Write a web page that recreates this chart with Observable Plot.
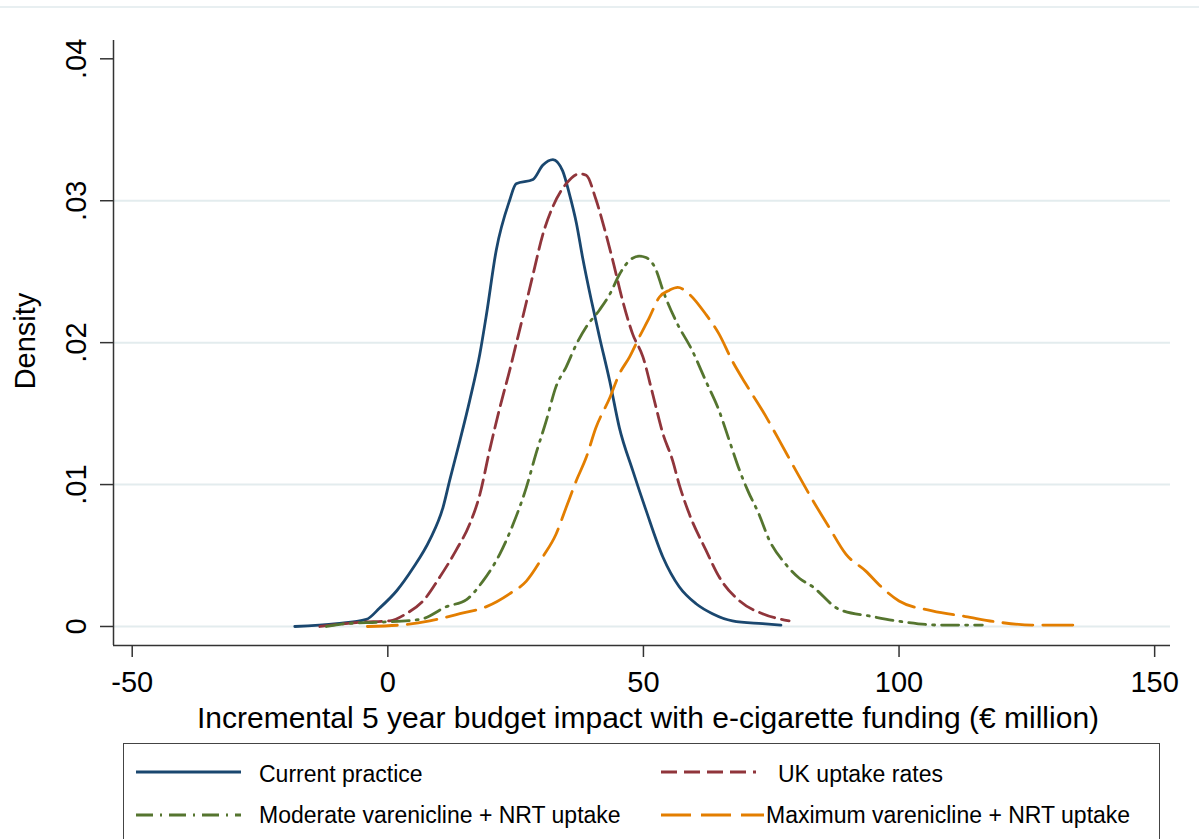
<!DOCTYPE html>
<html><head><meta charset="utf-8">
<script src="https://cdn.jsdelivr.net/npm/d3@7"></script>
<script src="https://cdn.jsdelivr.net/npm/@observablehq/plot@0.6"></script>
<style>
body{margin:0;background:#fff;font-family:"Liberation Sans",Arial,sans-serif;}
#wrap{position:relative;width:1199px;height:839px;overflow:hidden;background:#fff;}
#topline{position:absolute;left:0;top:6px;width:1199px;height:2px;background:#e8eff1;}
#chart{position:absolute;left:0;top:0;}
#legend{position:absolute;left:123px;top:743px;width:1037px;height:130px;border:1.5px solid #444;box-sizing:border-box;background:#fff;}
#legend svg{position:absolute;left:0;top:0;}
</style></head><body><div id="wrap"><div id="topline"></div><div id="chart"></div><div id="legend"></div></div>
<script>
// ---------- data ----------
const seriesNames = ["Current practice", "UK uptake rates", "Moderate varenicline + NRT uptake", "Maximum varenicline + NRT uptake"];

const currentX = [-18.2, -10, -4.2, -1.6, 1.7, 4.9, 8.2, 10.8, 12.1, 14.1, 16.0, 18.0, 19.3, 21.2, 23.8, 25.1, 28.4, 30.3, 32.3, 34.2, 35.5, 36.9, 38.1, 39.8, 41.4, 43.4, 45.3, 47.9, 50.5, 53.8, 57.0, 60.3, 63.5, 67.4, 73.3, 76.9];
const currentDensity = [0.0000, 0.0002, 0.0005, 0.0013, 0.0025, 0.0041, 0.0061, 0.0084, 0.0103, 0.0131, 0.0159, 0.0192, 0.0220, 0.0265, 0.0300, 0.0312, 0.0315, 0.0325, 0.0329, 0.0321, 0.0305, 0.0284, 0.0260, 0.0230, 0.0204, 0.0173, 0.0140, 0.0110, 0.0082, 0.0049, 0.0028, 0.0016, 0.0009, 0.0004, 0.0002, 0.0001];

const ukX = [-13.3, -5.5, 0.4, 3.6, 6.9, 10.2, 13.4, 16.0, 18.0, 19.9, 21.9, 23.8, 25.1, 26.4, 28.4, 30.3, 32.3, 34.9, 37.5, 38.8, 40.7, 42.7, 44.0, 45.9, 47.9, 49.9, 51.8, 53.8, 55.7, 57.0, 59.0, 62.2, 64.8, 68.8, 73.3, 78.5];
const ukDensity = [0.0000, 0.0003, 0.0004, 0.0009, 0.0018, 0.0035, 0.0054, 0.0072, 0.0093, 0.0124, 0.0154, 0.0180, 0.0199, 0.0218, 0.0248, 0.0276, 0.0296, 0.0312, 0.0319, 0.0318, 0.0301, 0.0276, 0.0258, 0.0230, 0.0206, 0.0190, 0.0164, 0.0136, 0.0117, 0.0100, 0.0079, 0.0054, 0.0035, 0.0018, 0.0009, 0.0004];

const moderateX = [-12, -8.1, -1.6, 6.3, 11.5, 15.4, 18.6, 21.9, 24.5, 27.1, 29.0, 31.0, 32.9, 34.9, 36.9, 38.8, 41.4, 43.4, 45.3, 47.3, 49.2, 50.5, 52.5, 53.8, 56.4, 59.6, 62.2, 64.8, 66.8, 68.8, 70.5, 72.5, 74.6, 77.8, 80.5, 83.1, 88.3, 94.8, 101.3, 107.8, 116.3];
const moderateDensity = [0.0000, 0.0002, 0.0003, 0.0005, 0.0014, 0.0019, 0.0032, 0.0051, 0.0072, 0.0098, 0.0122, 0.0145, 0.0169, 0.0183, 0.0199, 0.0211, 0.0223, 0.0234, 0.0248, 0.0258, 0.0261, 0.0260, 0.0251, 0.0237, 0.0215, 0.0194, 0.0173, 0.0152, 0.0131, 0.0110, 0.0095, 0.0080, 0.0061, 0.0044, 0.0034, 0.0028, 0.0012, 0.0007, 0.0003, 0.0001, 0.0001];

const maximumX = [-4, 2.3, 8.2, 14.1, 19.3, 23.8, 27.1, 30.3, 32.9, 34.9, 36.9, 38.8, 40.7, 43.4, 45.3, 47.3, 49.2, 51.2, 53.1, 55.1, 56.7, 59.0, 62.2, 64.8, 67.4, 70.0, 73.3, 76.6, 79.8, 83.1, 86.3, 89.6, 93.5, 96.5, 100, 106.5, 113, 119.5, 126, 134.5];
const maximumDensity = [0.0000, 0.0001, 0.0004, 0.0009, 0.0014, 0.0023, 0.0032, 0.0049, 0.0065, 0.0084, 0.0103, 0.0119, 0.0140, 0.0161, 0.0178, 0.0190, 0.0204, 0.0218, 0.0232, 0.0237, 0.0239, 0.0234, 0.0220, 0.0206, 0.0187, 0.0171, 0.0152, 0.0131, 0.0110, 0.0089, 0.0070, 0.0051, 0.0039, 0.0028, 0.0018, 0.0011, 0.0007, 0.0003, 0.0001, 0.0001];

const xTicks = [-50, 0, 50, 100, 150];
const xTickLabels = ["-50", "0", "50", "100", "150"];
const yTicks = [0, 0.01, 0.02, 0.03, 0.04];
const yTickLabels = ["0", ".01", ".02", ".03", ".04"];
const gridTicks = [0, 0.01, 0.02, 0.03];
const xLabel = "Incremental 5 year budget impact with e-cigarette funding (€ million)";
const yLabel = "Density";
const xDomain = [-53.66, 153.1];
const yDomain = [-0.00134, 0.04129];

// ---------- styles ----------
const colors = ["#1a476f", "#90353b", "#55752f", "#e37e00"];
const dashes = [null, "16 7", "17 7 2 7", "30 10"];
const font = "'Liberation Sans', Arial, sans-serif";

const seriesData = [[currentX, currentDensity], [ukX, ukDensity], [moderateX, moderateDensity], [maximumX, maximumDensity]];
const rows = seriesData.flatMap(([xs, ys], k) => xs.map((x, i) => ({series: seriesNames[k], x, density: ys[i]})));
const xTickRows = xTicks.map((v, i) => ({v, label: xTickLabels[i]}));
const yTickRows = yTicks.map((v, i) => ({v, label: yTickLabels[i]}));

const lineMarks = seriesNames.map((name, k) => Plot.line(rows.filter(d => d.series === name), {
  x: "x", y: "density", stroke: colors[k], strokeWidth: 2.8,
  strokeDasharray: dashes[k] || undefined, curve: "monotone-x"
}));

const chart = Plot.plot({
  width: 1199, height: 740,
  marginLeft: 113, marginRight: 29, marginTop: 40, marginBottom: 95,
  style: {fontFamily: font, background: "transparent", color: "#000"},
  x: {domain: xDomain},
  y: {domain: yDomain},
  marks: [
    Plot.gridY(gridTicks, {stroke: "#e3ecee", strokeOpacity: 1, strokeWidth: 2}),
    ...lineMarks,
    Plot.ruleX([xDomain[0]], {stroke: "#333", strokeWidth: 1.5}),
    Plot.ruleY([yDomain[0]], {stroke: "#333", strokeWidth: 1.5}),
    Plot.axisX({ticks: xTicks, tickSize: 12, tickFormat: () => "", label: null, stroke: "#333", strokeWidth: 1.5}),
    Plot.axisY({ticks: yTicks, tickSize: 13, tickFormat: () => "", label: null, stroke: "#333", strokeWidth: 1.5}),
    Plot.text(xTickRows, {x: "v", text: "label", frameAnchor: "bottom", lineAnchor: "top", dy: 26.4, fontSize: 29, fill: "#000"}),
    Plot.text(yTickRows, {y: "v", text: "label", frameAnchor: "left", dx: -47.6, rotate: -90, textAnchor: "middle", lineAnchor: "top", fontSize: 29, fill: "#000"}),
    Plot.text([xLabel], {text: d => d, frameAnchor: "bottom", dx: 6, dy: 60.7, lineAnchor: "top", fontSize: 30, fill: "#000"}),
    Plot.text([yLabel], {text: d => d, frameAnchor: "left", dx: -98.6, dy: -2, rotate: -90, textAnchor: "middle", lineAnchor: "top", fontSize: 29, fill: "#000"})
  ]
});
document.getElementById("chart").appendChild(chart);

// ---------- legend ----------
const legendPos = [
  {lx0: 12, lx1: 117, tx: 135, ly: 28, ty: 38},
  {lx0: 537, lx1: 632, tx: 654, ly: 28, ty: 38},
  {lx0: 12, lx1: 117, tx: 135, ly: 71, ty: 79},
  {lx0: 537, lx1: 640, tx: 642, ly: 71, ty: 79}
];
const lsvg = d3.select("#legend").append("svg").attr("width", 1034).attr("height", 127);
seriesNames.forEach((name, k) => {
  const p = legendPos[k];
  lsvg.append("line").attr("x1", p.lx0).attr("x2", p.lx1).attr("y1", p.ly).attr("y2", p.ly)
    .attr("stroke", colors[k]).attr("stroke-width", 2.8).attr("stroke-dasharray", dashes[k]);
  lsvg.append("text").attr("x", p.tx).attr("y", p.ty).attr("font-family", font).attr("font-size", 23)
    .attr("fill", "#000").text(name);
});
</script>
</body></html>
